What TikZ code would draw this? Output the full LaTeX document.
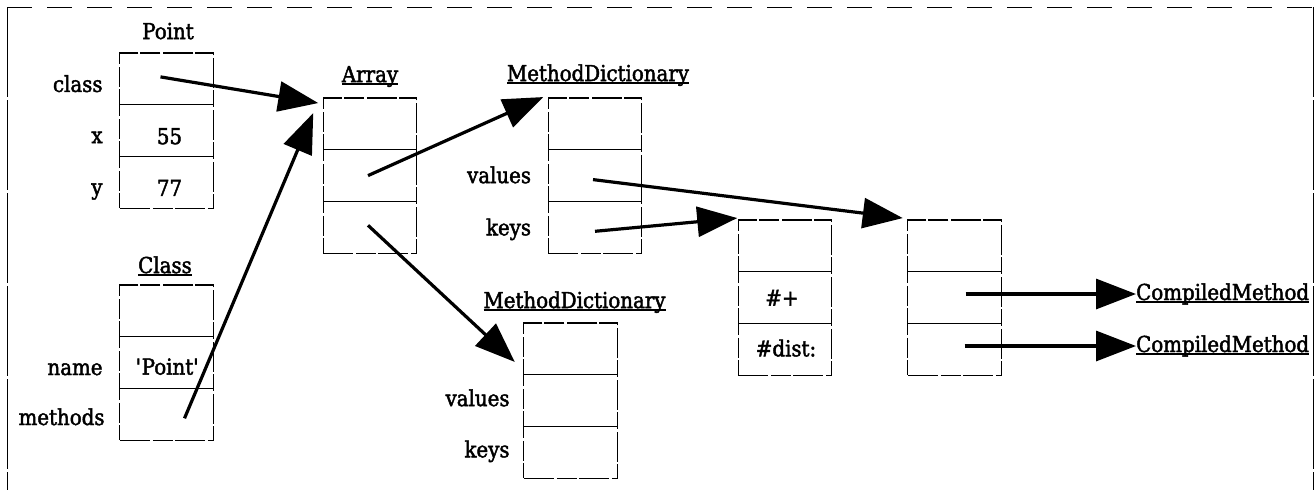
\documentclass[tikz,border=0pt]{standalone}
\usepackage{fontspec}
\setmainfont{DejaVu Serif}[FakeStretch=0.9,FakeBold=2]
\usetikzlibrary{arrows.meta,positioning,calc}
% underline that runs through descenders, just below the baseline
\newcommand\undl[1]{\setbox0\hbox{#1}\rlap{\rule[-2.6pt]{\wd0}{1.3pt}}\box0}
\begin{document}
\begin{tikzpicture}[x=1pt,y=-1pt,
  cell/.style={draw, line width=1.2pt, dash pattern=on 30pt off 3pt on 20pt off 2pt,
    minimum width=93.5pt, minimum height=51.7pt, inner sep=0pt, outer sep=0pt},
  txt/.style={font=\fontsize{22}{26}\selectfont, inner sep=0pt, text height=16pt, text depth=4pt},
  ptr/.style={line width=3.2pt, -{Triangle[length=40pt,width=30pt]}},
  frametop/.style={line width=1pt, dash pattern=on 25pt off 15pt},
  frameside/.style={line width=1pt, dash pattern=on 90pt off 3pt}]
\useasboundingbox (0,0) rectangle (1315,490);

% outer frame
\draw[frametop] (7,7) -- (1313,7);
\draw[frameside] (7,7) -- (7,495);
\draw[frameside] (1313,7) -- (1313,495);

% Point instance
\node[cell] (p1) at (166.5,78.9) {};
\node[cell, below=0pt of p1] (p2) {};
\node[cell, below=0pt of p2] (p3) {};
\node[txt, anchor=base] (ph) at ($(p1.north)+(1.5,-14)$) {Point};
\node[txt, anchor=base east] (pl1) at ($(p1.west)+(-17,13)$) {class};
\node[txt, anchor=base east] (pl2) at ($(p2.west)+(-17,12.5)$) {x};
\node[txt, anchor=base east] (pl3) at ($(p3.west)+(-17,12.5)$) {y};
\node[txt, anchor=base] (pv2) at ($(p2.center)+(3,13.5)$) {55};
\node[txt, anchor=base] (pv3) at ($(p3.center)+(3,13.5)$) {77};

% Class object
\node[cell] (c1) at (166.5,310.9) {};
\node[cell, below=0pt of c1] (c2) {};
\node[cell, below=0pt of c2] (c3) {};
\node[txt, anchor=base] (ch) at ($(c1.north)+(-1.5,-12)$) {\undl{Class}};
\node[txt, anchor=base east] (cl2) at ($(c2.west)+(-17,12.4)$) {name};
\node[txt, anchor=base east] (cl3) at ($(c3.west)+(-15,10.7)$) {methods};
\node[txt, anchor=base] (cv2) at ($(c2.center)+(1,12)$) {\textquotesingle Point\textquotesingle};

% Array
\node[cell] (a1) at (370,123.9) {};
\node[cell, below=0pt of a1] (a2) {};
\node[cell, below=0pt of a2] (a3) {};
\node[txt, anchor=base] (ah) at ($(a1.north)+(0,-16)$) {\undl{Array}};

% upper MethodDictionary
\node[cell] (m1) at (595,123.9) {};
\node[cell, below=0pt of m1] (m2) {};
\node[cell, below=0pt of m2] (m3) {};
\node[txt, anchor=base] (mh) at ($(m1.north)+(3,-17)$) {\undl{MethodDictionary}};
\node[txt, anchor=base east] (ml2) at ($(m2.west)+(-17,7.5)$) {values};
\node[txt, anchor=base east] (ml3) at ($(m3.west)+(-17,8)$) {keys};

% lower MethodDictionary
\node[cell] (n1) at (570.5,348.9) {};
\node[cell, below=0pt of n1] (n2) {};
\node[cell, below=0pt of n2] (n3) {};
\node[txt, anchor=base] (nh) at ($(n1.north)+(4,-15)$) {\undl{MethodDictionary}};
\node[txt, anchor=base east] (nl2) at ($(n2.west)+(-14,5.5)$) {values};
\node[txt, anchor=base east] (nl3) at ($(n3.west)+(-14,5)$) {keys};

% keys array
\node[cell] (k1) at (785,245.9) {};
\node[cell, below=0pt of k1] (k2) {};
\node[cell, below=0pt of k2] (k3) {};
\node[txt, anchor=base] (kv2) at ($(k2.center)+(-3,8)$) {\#+};
\node[txt, anchor=base] (kv3) at ($(k3.center)+(1,7)$) {\#dist:};

% values array
\node[cell] (v1) at (954.5,245.9) {};
\node[cell, below=0pt of v1] (v2) {};
\node[cell, below=0pt of v2] (v3) {};

% compiled methods
\node[txt, anchor=base west] (cm1) at (1136,300) {\undl{CompiledMethod}};
\node[txt, anchor=base west] (cm2) at (1136,352) {\undl{CompiledMethod}};

% pointers
\draw[ptr] ($(p1.center)+(-6,-2)$) -- ($(a1.north west)+(-5,5)$);
\draw[ptr] ($(c3.center)+(18,4)$) -- ($(a1.north west)+(-10,15)$);
\draw[ptr] ($(a2.center)+(-2,0)$) -- ($(m1.north west)+(-5,-1)$);
\draw[ptr] ($(a3.center)+(-2,-2)$) -- ($(n1.west)+(-9,13)$);
\draw[ptr] ($(m2.center)+(-2,4)$) -- ($(v1.north west)+(-5,-2)$);
\draw[ptr] ($(m3.center)+(0,4)$) -- ($(k1.north west)+(-1,-2)$);
\draw[ptr] ([xshift=11pt]v2.center |- cm1.west) -- (cm1.west);
\draw[ptr] ([xshift=10pt]v3.center |- cm2.west) -- (cm2.west);
\end{tikzpicture}
\end{document}
